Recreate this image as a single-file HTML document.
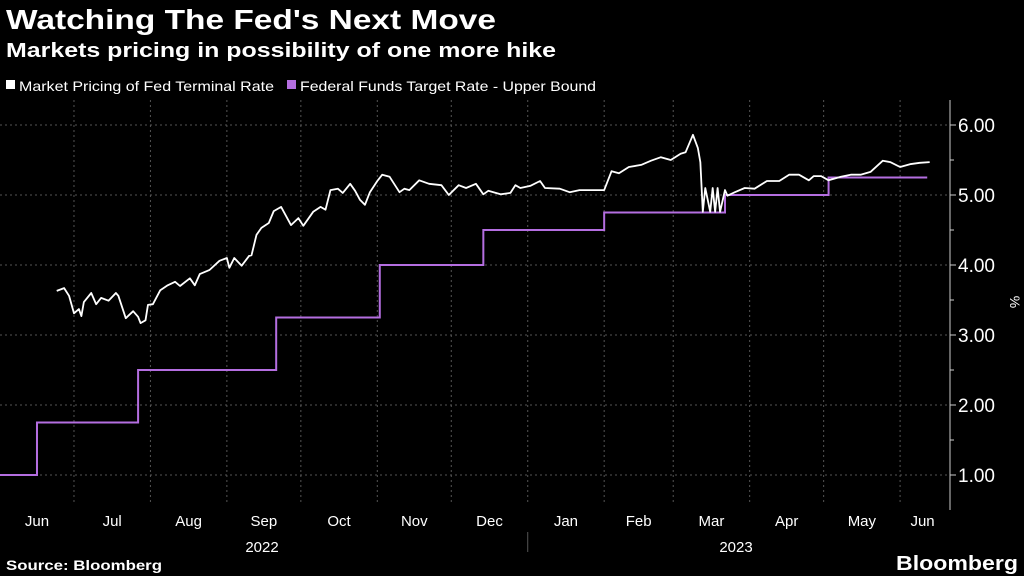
<!DOCTYPE html>
<html><head><meta charset="utf-8"><style>
body{margin:0;background:#000;width:1024px;height:576px;overflow:hidden;font-family:"Liberation Sans",sans-serif;color:#fff}
</style></head><body>
<svg width="1024" height="576" style="position:absolute;left:0;top:0">
<text x="6" y="29" font-size="28" font-weight="bold" fill="#fff" textLength="490" lengthAdjust="spacingAndGlyphs">Watching The Fed's Next Move</text>
<text x="6" y="57" font-size="20" font-weight="bold" fill="#fff" textLength="550" lengthAdjust="spacingAndGlyphs">Markets pricing in possibility of one more hike</text>
<g>
<rect x="6" y="80" width="9" height="9" fill="#fff"/>
<text x="19" y="91" font-size="14" fill="#fff" textLength="255" lengthAdjust="spacingAndGlyphs">Market Pricing of Fed Terminal Rate</text>
<rect x="287" y="80" width="9" height="9" fill="#b46ee0"/>
<text x="300" y="91" font-size="14" fill="#fff" textLength="296" lengthAdjust="spacingAndGlyphs">Federal Funds Target Rate - Upper Bound</text>
</g>
<g id="grid"></g><g id="axes"></g><g id="series"></g>
<text transform="translate(1010,302) rotate(90)" font-size="14" fill="#fff" text-anchor="middle">%</text>
<text x="6" y="570" font-size="14" font-weight="bold" fill="#fff" textLength="156" lengthAdjust="spacingAndGlyphs">Source: Bloomberg</text>
<text x="896" y="570" font-size="20" font-weight="bold" fill="#fff" textLength="122" lengthAdjust="spacingAndGlyphs">Bloomberg</text>
</svg>
<script>
const yTicks=[1,2,3,4,5,6];
const months=["Jun","Jul","Aug","Sep","Oct","Nov","Dec","Jan","Feb","Mar","Apr","May","Jun"];
const monthStartDays=[0,30,61,92,122,153,183,214,245,273,304,334,365];
const fedDays=[0,15,15,56,56,112,112,154,154,196,196,245,245,294,294,336,336,376];
const fedVals=[1,1,1.75,1.75,2.5,2.5,3.25,3.25,4,4,4.5,4.5,4.75,4.75,5,5,5.25,5.25];
const mktDays=[23,26,28,30,32,33,34,37,39,41,44,47,48,51,54,56,57,59,60,62,65,68,71,73,77,79,81,85,89,92,93,95,98,101,102,104,106,109,111,114,118,121,123,127,130,132,134,137,139,142,144,146,148,150,153,155,158,162,164,166,170,174,179,182,186,189,193,196,198,201,203,207,209,211,215,219,221,227,231,235,243,245,248,251,255,260,264,268,272,276,278,281,283,284,285,286,288,289,290,291,292,294,295,298,302,306,311,316,320,324,328,330,333,336,341,345,349,353,358,361,365,369,373,377];
const mktVals=[3.63,3.67,3.56,3.31,3.37,3.27,3.47,3.60,3.44,3.53,3.49,3.60,3.56,3.24,3.34,3.26,3.17,3.21,3.43,3.44,3.64,3.71,3.76,3.70,3.81,3.71,3.87,3.93,4.06,4.10,3.96,4.10,3.99,4.13,4.14,4.43,4.53,4.60,4.77,4.83,4.57,4.67,4.56,4.76,4.83,4.79,5.07,5.09,5.03,5.16,5.06,4.93,4.86,5.04,5.20,5.29,5.26,5.04,5.09,5.07,5.21,5.16,5.14,5.00,5.14,5.10,5.16,5.01,5.06,5.03,5.01,5.03,5.14,5.10,5.13,5.20,5.10,5.09,5.04,5.07,5.07,5.07,5.34,5.31,5.40,5.43,5.49,5.54,5.50,5.59,5.61,5.86,5.67,5.47,4.76,5.10,4.76,5.10,4.76,5.10,4.76,5.07,4.99,5.04,5.10,5.09,5.20,5.20,5.29,5.29,5.21,5.27,5.27,5.21,5.26,5.29,5.29,5.33,5.49,5.47,5.40,5.44,5.46,5.47];
const NS="http://www.w3.org/2000/svg";
const X=d=>d*2.466, Y=v=>125+(6-v)*70;
function mk(tag,attrs,parent){const e=document.createElementNS(NS,tag);for(const k in attrs)e.setAttribute(k,attrs[k]);document.getElementById(parent).appendChild(e);return e;}
yTicks.forEach(v=>{
 let g=mk('line',{x1:0,x2:950,y1:Y(v),y2:Y(v),stroke:'#555','stroke-dasharray':'2,3'},'grid');
 
 
 let t=mk('text',{x:958,y:Y(v)+7,'font-size':19,fill:'#fff'},'axes');t.textContent=v.toFixed(2);
 
 
 mk('line',{x1:950,x2:956,y1:Y(v),y2:Y(v),stroke:'#ccc'},'axes');
 if(v<6)mk('line',{x1:950,x2:954,y1:Y(v+0.5),y2:Y(v+0.5),stroke:'#ccc'},'axes');
});
monthStartDays.forEach((d,i)=>{
 if(i>0){let g=mk('line',{x1:X(d),x2:X(d),y1:100,y2:505,stroke:'#555','stroke-dasharray':'2,3'},'grid');
 
 }
 const end=i<12?monthStartDays[i+1]:Math.min(396,d+31);
 let t=mk('text',{x:(X(d)+Math.min(X(end),945))/2,y:526,'font-size':15,fill:'#fff','text-anchor':'middle'},'axes');t.textContent=months[i];
 
 
});
mk('line',{x1:950,x2:950,y1:100,y2:510,stroke:'#ccc'},'axes');
mk('line',{x1:X(214),x2:X(214),y1:532,y2:552,stroke:'#555'},'axes');
[['2022',262],['2023',736]].forEach(([s,x])=>{let t=mk('text',{x:x,y:552,'font-size':15,fill:'#fff','text-anchor':'middle'},'axes');t.textContent=s;
 
 });
let fp=mk('polyline',{points:fedDays.map((d,i)=>X(d)+','+Y(fedVals[i])).join(' '),fill:'none',stroke:'#b46ee0','stroke-width':2},'series');


let mp=mk('polyline',{points:mktDays.map((d,i)=>X(d)+','+Y(mktVals[i])).join(' '),fill:'none',stroke:'#fff','stroke-width':1.8,'stroke-linejoin':'round'},'series');


</script>
</body></html>
